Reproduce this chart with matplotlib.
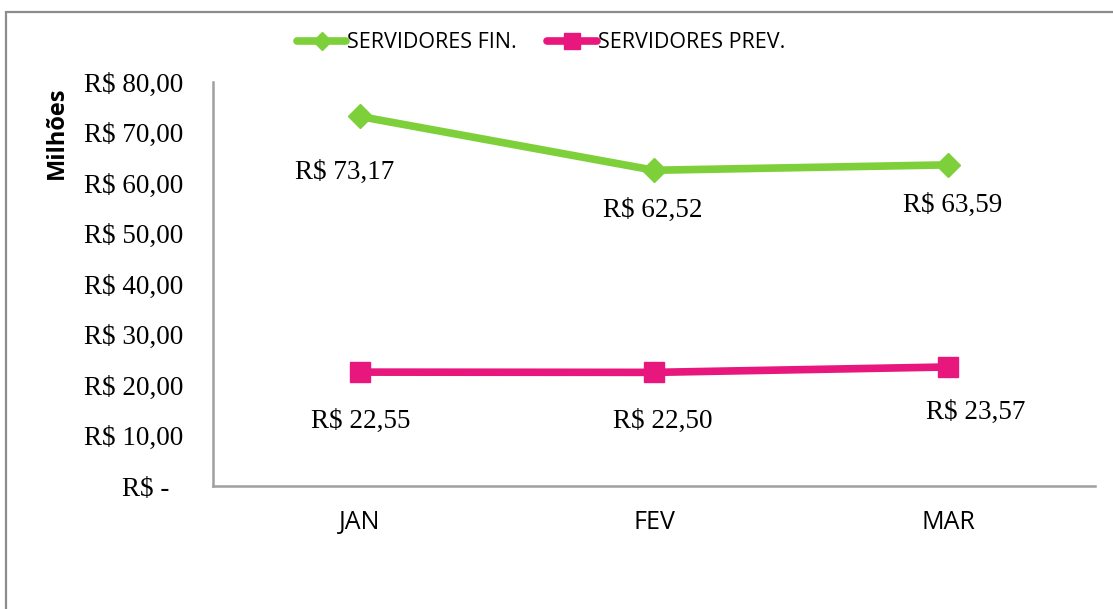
import matplotlib
matplotlib.use("Agg")
import matplotlib.pyplot as plt
from matplotlib.patches import Rectangle
from matplotlib.ticker import FixedLocator, FuncFormatter

# Monthly payroll (R$ millions)
months = ["JAN", "FEV", "MAR"]
series_names = ["SERVIDORES FIN.", "SERVIDORES PREV."]
fin_values = [73.17, 62.52, 63.59]
prev_values = [22.55, 22.50, 23.57]
y_ticks = [0, 10, 20, 30, 40, 50, 60, 70, 80]


def brl(v):
    if v == 0:
        return "R$ -"
    return "R$ " + f"{v:.2f}".replace(".", ",")


def axis_brl(v, pos=None):
    # accounting style: the dash for zero sits inset from the right edge
    if v == 0:
        return "R$ -\u2002"
    return brl(v)


W, H = 1113, 609
fig = plt.figure(figsize=(W / 100, H / 100), dpi=100)
fig.patch.set_facecolor("white")

# outer chart frame
fig.add_artist(Rectangle((6 / W, -0.05), 1.2, 1 - 12 / H + 0.05,
                         transform=fig.transFigure, fill=False,
                         edgecolor="#8c8c8c", linewidth=1.6))

ax = fig.add_axes([213 / W, 1 - 486 / H, (1095 - 213) / W, (486 - 82) / H])
x = list(range(len(months)))

green = "#7ed03b"
pink = "#e8177d"
ax.plot(x, fin_values, color=green, linewidth=5.5, marker="D",
        markersize=12, solid_capstyle="round", label=series_names[0], zorder=3)
ax.plot(x, prev_values, color=pink, linewidth=5.5, marker="s",
        markersize=15, solid_capstyle="round", label=series_names[1], zorder=3)

ax.set_xlim(-0.5, len(months) - 0.5)
ax.set_ylim(0, 80)

serif = "Liberation Serif"
sans = "Open Sans"

ax.yaxis.set_major_locator(FixedLocator(y_ticks))
ax.yaxis.set_major_formatter(FuncFormatter(axis_brl))
ax.tick_params(axis="y", length=0, pad=21.5, labelsize=19.5)
plt.setp(ax.get_yticklabels(), fontfamily=serif)
ax.set_xticks(x)
ax.set_xticklabels(months, fontfamily=sans, fontsize=18)
ax.tick_params(axis="x", length=0, pad=17)

for side in ("top", "right"):
    ax.spines[side].set_visible(False)
for side in ("left", "bottom"):
    ax.spines[side].set_color("#a0a0a0")
    ax.spines[side].set_linewidth(1.8)

fig.text(57 / W, 1 - 133 / H, "Milhões", rotation=90, ha="center", va="center",
         fontfamily=sans, fontweight="bold", fontsize=17)

# value labels
fin_offsets = [(-15, -56), (-1, -40), (5, -41)]
prev_offsets = [(1, -49), (9, -49), (28, -45)]
for xs, vals, offs in ((x, fin_values, fin_offsets), (x, prev_values, prev_offsets)):
    for xi, v, (dx, dy) in zip(xs, vals, offs):
        ax.annotate(brl(v), (xi, v), xytext=(dx, dy), textcoords="offset pixels",
                    ha="center", va="center", fontfamily=serif, fontsize=19.5)

fig.legend(loc="center", bbox_to_anchor=(541 / W, 1 - 43 / H), ncol=2,
           frameon=False, prop={"family": sans, "size": 15.5},
           handlelength=2.3, handletextpad=0.05, columnspacing=1.4,
           markerscale=0.8)

fig.savefig("out.png", dpi=100)
